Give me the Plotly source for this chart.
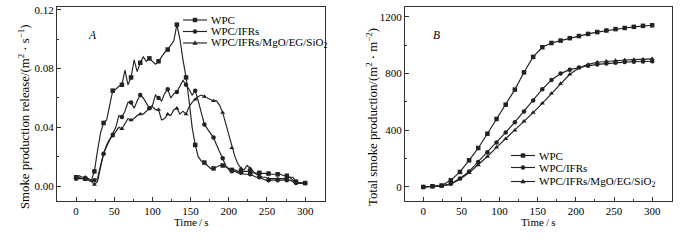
import plotly.graph_objects as go

# ---------------- data ----------------
# Panel A: smoke production release (m^2/s), sampled every 4 s
time_a = list(range(0, 301, 4))
spr_wpc = [0.006, 0.006, 0.005, 0.005, 0.005, 0.004, 0.010, 0.024, 0.036, 0.043,
           0.045, 0.055, 0.065, 0.066, 0.068, 0.069, 0.079, 0.069, 0.074, 0.086,
           0.078, 0.084, 0.088, 0.085, 0.087, 0.085, 0.083, 0.085, 0.088, 0.091,
           0.093, 0.096, 0.099, 0.110, 0.100, 0.086, 0.074, 0.058, 0.040, 0.028,
           0.020, 0.017, 0.016, 0.014, 0.012, 0.012, 0.013, 0.014, 0.014, 0.013,
           0.012, 0.011, 0.011, 0.010, 0.010, 0.010, 0.010, 0.010, 0.009, 0.009,
           0.009, 0.009, 0.009, 0.0085, 0.008, 0.008, 0.008, 0.008, 0.007, 0.007,
           0.006, 0.004, 0.003, 0.002, 0.002, 0.002]
spr_ifr = [0.005, 0.005, 0.005, 0.005, 0.004, 0.003, 0.004, 0.005, 0.014, 0.022,
           0.027, 0.031, 0.035, 0.040, 0.048, 0.047, 0.051, 0.057, 0.057, 0.053,
           0.058, 0.062, 0.060, 0.056, 0.053, 0.055, 0.062, 0.060, 0.058, 0.063,
           0.066, 0.060, 0.063, 0.064, 0.068, 0.072, 0.069, 0.066, 0.062, 0.065,
           0.058, 0.050, 0.042, 0.039, 0.036, 0.033, 0.028, 0.023, 0.019, 0.014,
           0.011, 0.010, 0.010, 0.009, 0.009, 0.008, 0.008, 0.008, 0.007, 0.006,
           0.006, 0.005, 0.004, 0.004, 0.004, 0.004, 0.004, 0.004, 0.004, 0.004,
           0.004, 0.003, 0.002, 0.002, 0.002, 0.002]
spr_mgo = [0.006, 0.007, 0.006, 0.006, 0.005, 0.003, 0.001, 0.003, 0.013, 0.022,
           0.028, 0.032, 0.034, 0.037, 0.040, 0.039, 0.043, 0.046, 0.045, 0.046,
           0.048, 0.049, 0.049, 0.051, 0.053, 0.054, 0.052, 0.052, 0.045, 0.046,
           0.049, 0.048, 0.052, 0.053, 0.049, 0.051, 0.049, 0.054, 0.057, 0.059,
           0.061, 0.062, 0.061, 0.060, 0.059, 0.058, 0.058, 0.055, 0.050, 0.042,
           0.035, 0.026, 0.020, 0.015, 0.012, 0.011, 0.014, 0.012, 0.010, 0.008,
           0.007, 0.006, 0.006, 0.005, 0.005, 0.005, 0.005, 0.005, 0.005, 0.005,
           0.006, 0.006, 0.003, 0.002, 0.002, 0.002]

# Panel B: total smoke production (m^2/m^2), sampled every 12 s
time_b = list(range(0, 301, 12))
tsp_wpc = [0, 5, 10, 47, 106, 188, 275, 376, 480, 581, 687, 809, 918, 986, 1016,
           1033, 1050, 1065, 1080, 1093, 1104, 1114, 1122, 1130, 1137, 1141]
tsp_ifr = [0, 5, 8, 22, 60, 110, 177, 245, 313, 385, 457, 533, 610, 690, 755,
           800, 828, 843, 855, 865, 872, 877, 881, 884, 886, 887]
tsp_mgo = [0, 4, 8, 20, 55, 100, 155, 215, 280, 340, 400, 463, 525, 590, 660,
           730, 795, 840, 865, 880, 887, 892, 896, 899, 902, 904]

names = ["WPC", "WPC/IFRs", "WPC/IFRs/MgO/EG/SiO<sub>2</sub>"]
symbols = ["square", "circle", "triangle-up"]
y_titles = ["Smoke production release/(m<sup>2</sup> · s<sup>−1</sup>)",
            "Total smoke production/(m<sup>2</sup> · m<sup>−2</sup>)"]
x_title = "Time\u2009/\u2009s"

# ---------------- styling ----------------
FONT = "Liberation Serif"
LINE = "#222222"
MARK_EVERY = 12  # seconds between markers
W, H = 700, 240

fig = go.Figure()

for vals, name, sym in zip([spr_wpc, spr_ifr, spr_mgo], names, symbols):
    mcol = [LINE if t % MARK_EVERY == 0 else "rgba(0,0,0,0)" for t in time_a]
    fig.add_trace(go.Scatter(
        x=time_a, y=vals, name=name, mode="lines+markers", showlegend=False,
        line=dict(color=LINE, width=1.15),
        marker=dict(symbol=sym, size=4.5, color=mcol, line=dict(width=0)),
        xaxis="x", yaxis="y", hoverinfo="skip"))

for vals, name, sym in zip([tsp_wpc, tsp_ifr, tsp_mgo], names, symbols):
    fig.add_trace(go.Scatter(
        x=time_b, y=vals, name=name, mode="lines+markers", showlegend=False,
        line=dict(color=LINE, width=1.15),
        marker=dict(symbol=sym, size=4.5, color=LINE),
        xaxis="x2", yaxis="y2", hoverinfo="skip"))


# ---------------- compact legends (paper coords from pixels) ----------------
def px(x, y):
    return x / W, 1 - y / H


shapes = []
annotations = []


def legend_block(x0, x1, ys):
    for name, sym, y in zip(names, symbols, ys):
        a, b = px(x0, y)
        c, _ = px(x1, y)
        shapes.append(dict(type="line", xref="paper", yref="paper", x0=a, y0=b, x1=c, y1=b,
                           line=dict(color=LINE, width=1.15)))
        cx = (x0 + x1) / 2
        r = 2.2
        if sym == "square":
            p0 = px(cx - r, y - r)
            p1 = px(cx + r, y + r)
            shapes.append(dict(type="rect", xref="paper", yref="paper", x0=p0[0], y0=p0[1],
                               x1=p1[0], y1=p1[1], fillcolor=LINE, line=dict(width=0)))
        elif sym == "circle":
            p0 = px(cx - r, y - r)
            p1 = px(cx + r, y + r)
            shapes.append(dict(type="circle", xref="paper", yref="paper", x0=p0[0], y0=p0[1],
                               x1=p1[0], y1=p1[1], fillcolor=LINE, line=dict(width=0)))
        else:
            q1 = px(cx, y - 2.8)
            q2 = px(cx - 2.6, y + 1.8)
            q3 = px(cx + 2.6, y + 1.8)
            path = "M %f,%f L %f,%f L %f,%f Z" % (q1[0], q1[1], q2[0], q2[1], q3[0], q3[1])
            shapes.append(dict(type="path", xref="paper", yref="paper", path=path,
                               fillcolor=LINE, line=dict(width=0)))
        tx, ty = px(x1 + 2, y)
        annotations.append(dict(text=name, x=tx, y=ty, xref="paper", yref="paper",
                                xanchor="left", yanchor="middle", showarrow=False,
                                font=dict(family=FONT, size=11, color="black")))


legend_block(183, 207, [20, 31.5, 43])
legend_block(511, 535, [155.5, 167.5, 181.5])

annotations.append(dict(text="<i>A</i>", x=86 / W, y=1 - 27 / H, xref="paper", yref="paper",
                        showarrow=False, font=dict(family=FONT, size=11.5, color="black")))
annotations.append(dict(text="<i>B</i>", x=436 / W, y=1 - 27 / H, xref="paper", yref="paper",
                        showarrow=False, font=dict(family=FONT, size=11.5, color="black")))

# rotated y-axis titles
for text, xpix in zip(y_titles, [24, 372]):
    tx, ty = px(xpix, 117)
    annotations.append(dict(text=text, x=tx, y=ty, xref="paper", yref="paper",
                            textangle=-90, xanchor="center", yanchor="middle",
                            showarrow=False, font=dict(family=FONT, size=12.8, color="black")))

# x-axis titles
for xc in [(57 + 325) / 2, (405 + 672) / 2]:
    tx, ty = px(xc, 222)
    annotations.append(dict(text=x_title, x=tx, y=ty, xref="paper", yref="paper",
                            xanchor="center", yanchor="middle", showarrow=False,
                            font=dict(family=FONT, size=11, color="black")))

axis_common = dict(
    showline=True, linecolor="#333333", linewidth=1, mirror=True,
    ticks="inside", ticklen=4, tickcolor="#333333",
    showgrid=False, zeroline=False,
    tickfont=dict(family=FONT, size=11, color="black"),
    automargin=False,
)

fig.update_layout(
    width=W, height=H,
    margin=dict(l=0, r=0, t=0, b=0),
    paper_bgcolor="white", plot_bgcolor="white",
    font=dict(family=FONT, size=11, color="black"),
    showlegend=False,
    hovermode=False,
    xaxis=dict(domain=[57 / W, 325 / W], range=[-25, 326], tickvals=[0, 50, 100, 150, 200, 250, 300],
               minor=dict(ticks="inside", ticklen=2, dtick=25, tick0=0, tickcolor="#333333"),
               anchor="y", **axis_common),
    yaxis=dict(domain=[1 - 201 / H, 1 - 7 / H], range=[-0.0102, 0.122],
               tickvals=[0, 0.04, 0.08, 0.12], tickformat=".2f",
               minor=dict(ticks="inside", ticklen=2, dtick=0.02, tick0=0, tickcolor="#333333"),
               anchor="x", **axis_common),
    xaxis2=dict(domain=[405 / W, 672 / W], range=[-24, 326], tickvals=[0, 50, 100, 150, 200, 250, 300],
                minor=dict(ticks="inside", ticklen=2, dtick=25, tick0=0, tickcolor="#333333"),
                anchor="y2", **axis_common),
    yaxis2=dict(domain=[1 - 201 / H, 1 - 7 / H], range=[-99, 1270], tickvals=[0, 400, 800, 1200],
                minor=dict(ticks="inside", ticklen=2, dtick=200, tick0=0, tickcolor="#333333"),
                anchor="x2", **axis_common),
    shapes=shapes,
    annotations=annotations,
)

fig.write_html("out.html", config={"displayModeBar": False},
               post_script="document.body.style.margin='0';")
